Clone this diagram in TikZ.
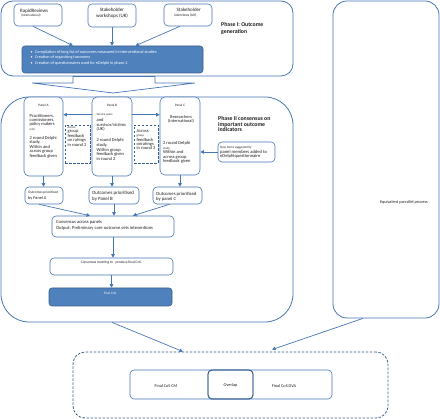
\documentclass[tikz,border=0pt]{standalone}
\usepackage{fontspec}
\setmainfont{Carlito}
\usetikzlibrary{arrows.meta,fit}
\definecolor{lb}{RGB}{70,118,180}
\definecolor{db}{RGB}{56,93,138}
\definecolor{fb}{RGB}{79,129,189}
\definecolor{tx}{RGB}{30,30,30}
\newcommand\myfs[2]{\fontsize{#1}{#2}\selectfont\lineskiplimit=-20pt\relax}
\tikzset{
  bigbox/.style={draw=lb, line width=0.8pt, inner sep=0pt},
  box/.style={draw=lb, line width=0.6pt, rounded corners=4pt, inner sep=0pt, fill=white},
  bluebox/.style={draw=db, line width=0.6pt, rounded corners=3pt, inner sep=0pt, fill=fb},
  dbox/.style={draw=db, line width=0.8pt, dash pattern=on 2.5pt off 1.5pt, inner sep=0pt},
  arr/.style={draw=lb, line width=0.7pt, -{Triangle[length=3.5pt,width=3.5pt]}},
  txt/.style={inner sep=0pt, align=left, text=tx},
}
\begin{document}
\begin{tikzpicture}[x=1pt,y=-1pt]
\useasboundingbox (0,0) rectangle (440,419);
% ---------- Phase I ----------
\node[bigbox, rounded corners=12pt, fit={(1,1)(293,76)}] (p1) {};
\node[box, fit={(14,4)(62,26)}] (rr) {};
\node[box, fit={(88,4)(136,27)}] (sw) {};
\node[box, fit={(164,4)(212,26)}] (si) {};
\node[bluebox, fit={(22,46)(203,73)}] (comp) {};
\node[txt, anchor=west, font=\myfs{5}{5.5}] (rrt1) at (20,10.7) {RapidReviews};
\node[txt, anchor=west, font=\myfs{3.3}{4}] (rrt2) at (21,15.2) {(International)};
\node[txt, anchor=north, align=center, font=\myfs{5}{5.3}] (swt) at (112,8.3) {Stakeholder\\workshops (UK)};
\node[txt, anchor=west, font=\myfs{5}{5.5}] (sit1) at (176.5,10) {Stakeholder};
\node[txt, anchor=west, font=\myfs{3.6}{4}] (sit2) at (174,15) {interviews (UK)};
\node[txt, anchor=north west, text=white, font=\myfs{4.2}{5.5}] (compt) at (30.5,50.3)
 {\makebox[4.5pt][l]{\textbullet}Compilation of long list of outcomes measured in interventional studies\\
  \makebox[4.5pt][l]{\textbullet}Creation of organising taxonomy\\
  \makebox[4.5pt][l]{\textbullet}Creation of questionnaires used for eDelphi in phase 2};
\node[txt, anchor=north west, font=\bfseries\myfs{5.8}{7.3}] (ph1) at (221,22.3) {Phase I: Outcome\\generation};
\draw[arr] ([xshift=-5pt]rr.south) -- ([xshift=-39.5pt]comp.north);
\draw[arr] (sw.south) -- (sw.south |- comp.north);
\draw[arr] ([xshift=-8pt]si.south) -- ([xshift=23pt]comp.north);
% ---------- funnel arrow ----------
\draw[lb, line width=0.7pt, fill=white] (32,83) -- (73,83) -- (73,76.5) -- (155,76.5) -- (155,83) -- (195,83) -- (113,93) -- cycle;
% ---------- Phase II ----------
\node[bigbox, rounded corners=28pt, fit={(1,97)(293,322)}] (p2) {};
\node[box, rounded corners=5pt, fit={(24,97)(63,176)}] (pa) {};
\node[box, rounded corners=5pt, fit={(92,97)(132,176)}] (pb) {};
\node[box, rounded corners=5pt, fit={(160,97)(200,175)}] (pc) {};
\node[dbox, fit={(65,125)(90,163)}] (dab) {};
\node[dbox, fit={(134,125)(158,163)}] (dbc) {};
\node[box, fit={(218,142)(275,162)}] (ni) {};
\node[txt, font=\myfs{3.4}{4}] (pat) at (43.5,105) {Panel A};
\node[txt, font=\myfs{3.4}{4}] (pbt) at (112,105) {Panel B};
\node[txt, font=\myfs{3.4}{4}] (pct) at (180,105) {Panel C};
\node[txt, anchor=north west, font=\myfs{4.5}{4.4}] (pab) at (29.5,113.8)
 {Practitioners,\\comissioners,\\policy makers\\{\myfs{2.8}{4.4}(UK)}\\[4.8pt]2 round Delphi\\study.\\Within and\\across group\\feedback given};
\node[txt, anchor=north west, font=\myfs{4.5}{4.6}] (pbb) at (96.5,113.5)
 {{\myfs{3}{4.6}Service users}\\[1.2pt]and\\survivor/victims\\(UK)\\[6.5pt]2 round Delphi\\study.\\Within group\\feedback given\\in round 2};
\node[txt, anchor=north, align=center, font=\myfs{4.4}{4.5}] (pcb1) at (181,114.8) {Researchers\\(International)};
\node[txt, anchor=north west, font=\myfs{4.5}{4.4}] (pcb2) at (163,141.6)
 {2 round Delphi\\{\myfs{3}{4.4}study.}\\Within and\\across group\\feedback given};
\node[txt, anchor=north west, font=\myfs{4.5}{4.5}] (dabt) at (67.5,126.3)
 {{\myfs{3}{4.5}Across}\\group\\feedback\\on ratings\\in round 2};
\node[txt, anchor=north west, font=\myfs{4.5}{4.3}] (dbct) at (136.5,129.4)
 {Across\\{\myfs{3}{4.3}group}\\feedback\\onratings\\in round 2};
\node[txt, anchor=north west, font=\myfs{4.6}{4.5}] (nit) at (220,146.2)
 {{\myfs{3.2}{4.5}New items suggested by}\\panel members added to\\eDelphiquestionnaire};
\node[txt, anchor=north west, font=\bfseries\myfs{5.8}{5.4}] (ph2) at (218,116.4) {Phase II consensus on\\important outcome\\indicators};
\draw[arr] ([yshift=-18pt]pb.north west) -- ([yshift=-18pt]pa.north east);
\draw[arr] ([yshift=-18pt]pb.north east) -- ([yshift=-18pt]pc.north west);
\draw[arr] (ni.west) -- (ni.west -| pc.east);
% outcomes
\node[box, fit={(25,187)(63,204)}] (oa) {};
\node[box, fit={(89,187)(139,204)}] (ob) {};
\node[box, fit={(153,187)(202,204)}] (oc) {};
\node[txt, anchor=north west, font=\myfs{4.3}{5.4}] (oat) at (28,191)
 {{\myfs{3.5}{5.4}Outcomes prioritised}\\by Panel A};
\node[txt, anchor=north west, font=\myfs{4.9}{5.6}] (obt) at (92,191.2)
 {Outcomes prioritised\\by Panel B};
\node[txt, anchor=north west, font=\myfs{4.7}{5.2}] (oct) at (156,192)
 {Outcomes prioritised\\by panel C};
\draw[arr] (pa.south) -- (pa.south |- oa.north);
\draw[arr] (pb.south) -- (pb.south |- ob.north);
\draw[arr] (pc.south) -- (pc.south |- oc.north);
% consensus
\node[box, fit={(52,216)(174,237)}] (ca) {};
\node[txt, anchor=north west, font=\myfs{4.6}{5.7}] (cat) at (56,220.2)
 {Consensus across panels\\Output: Preliminary core outcome sets inteventions};
\node[box, fit={(50,258)(173,275)}] (cm) {};
\node[txt, font=\myfs{3.6}{4}] (cmt) at (111,262.7) {Consensus meeting to \ \ produce final CoS};
\node[bluebox, fit={(49,288)(172,306)}] (fc) {};
\node[txt, text=white, font=\myfs{3.4}{4}] (fct) at (110,293.3) {Final CoS};
\draw[arr] ([xshift=-5pt]oa.south) -- ([xshift=-23pt]ca.north);
\draw[arr] (ob.south) -- (ob.south |- ca.north);
\draw[arr] ([xshift=-8pt]oc.south) -- ([xshift=20pt]ca.north);
\draw[arr] (ca.south) -- (ca.south |- cm.north);
\draw[arr] (cm.south) -- (cm.south |- fc.north);
% ---------- parallel process ----------
\node[bigbox, rounded corners=14pt, fit={(333,1)(439,318)}] (ep) {};
\node[txt, font=\myfs{4.3}{5}] (ept) at (404,202) {Equivalent parrallel process};
% ---------- final ----------
\node[dbox, rounded corners=12pt, fit={(73,352)(388,418)}] (bd) {};
\node[box, fit={(130,370)(253,399)}] (cmb) {};
\node[box, fill=none, fit={(208,370)(332,399)}] (dva) {};
\node[box, fill=none, draw=db, line width=0.9pt, fit={(208,370)(253,399)}] (ov) {};
\node[txt, font=\myfs{4.3}{5}] (cmbt) at (166,385.7) {Final CoS CM};
\node[txt, font=\myfs{4.3}{5}] (ovt) at (230.5,385.7) {Overlap};
\node[txt, font=\myfs{4.3}{5}] (dvat) at (284,385.7) {Final CoS DVA};
\draw[arr] ([xshift=-35pt]p2.south) -- ([xshift=-47.5pt]bd.north);
\draw[arr] ([xshift=-23pt]ep.south) -- ([xshift=41.5pt,yshift=2pt]bd.north);
\end{tikzpicture}
\end{document}
